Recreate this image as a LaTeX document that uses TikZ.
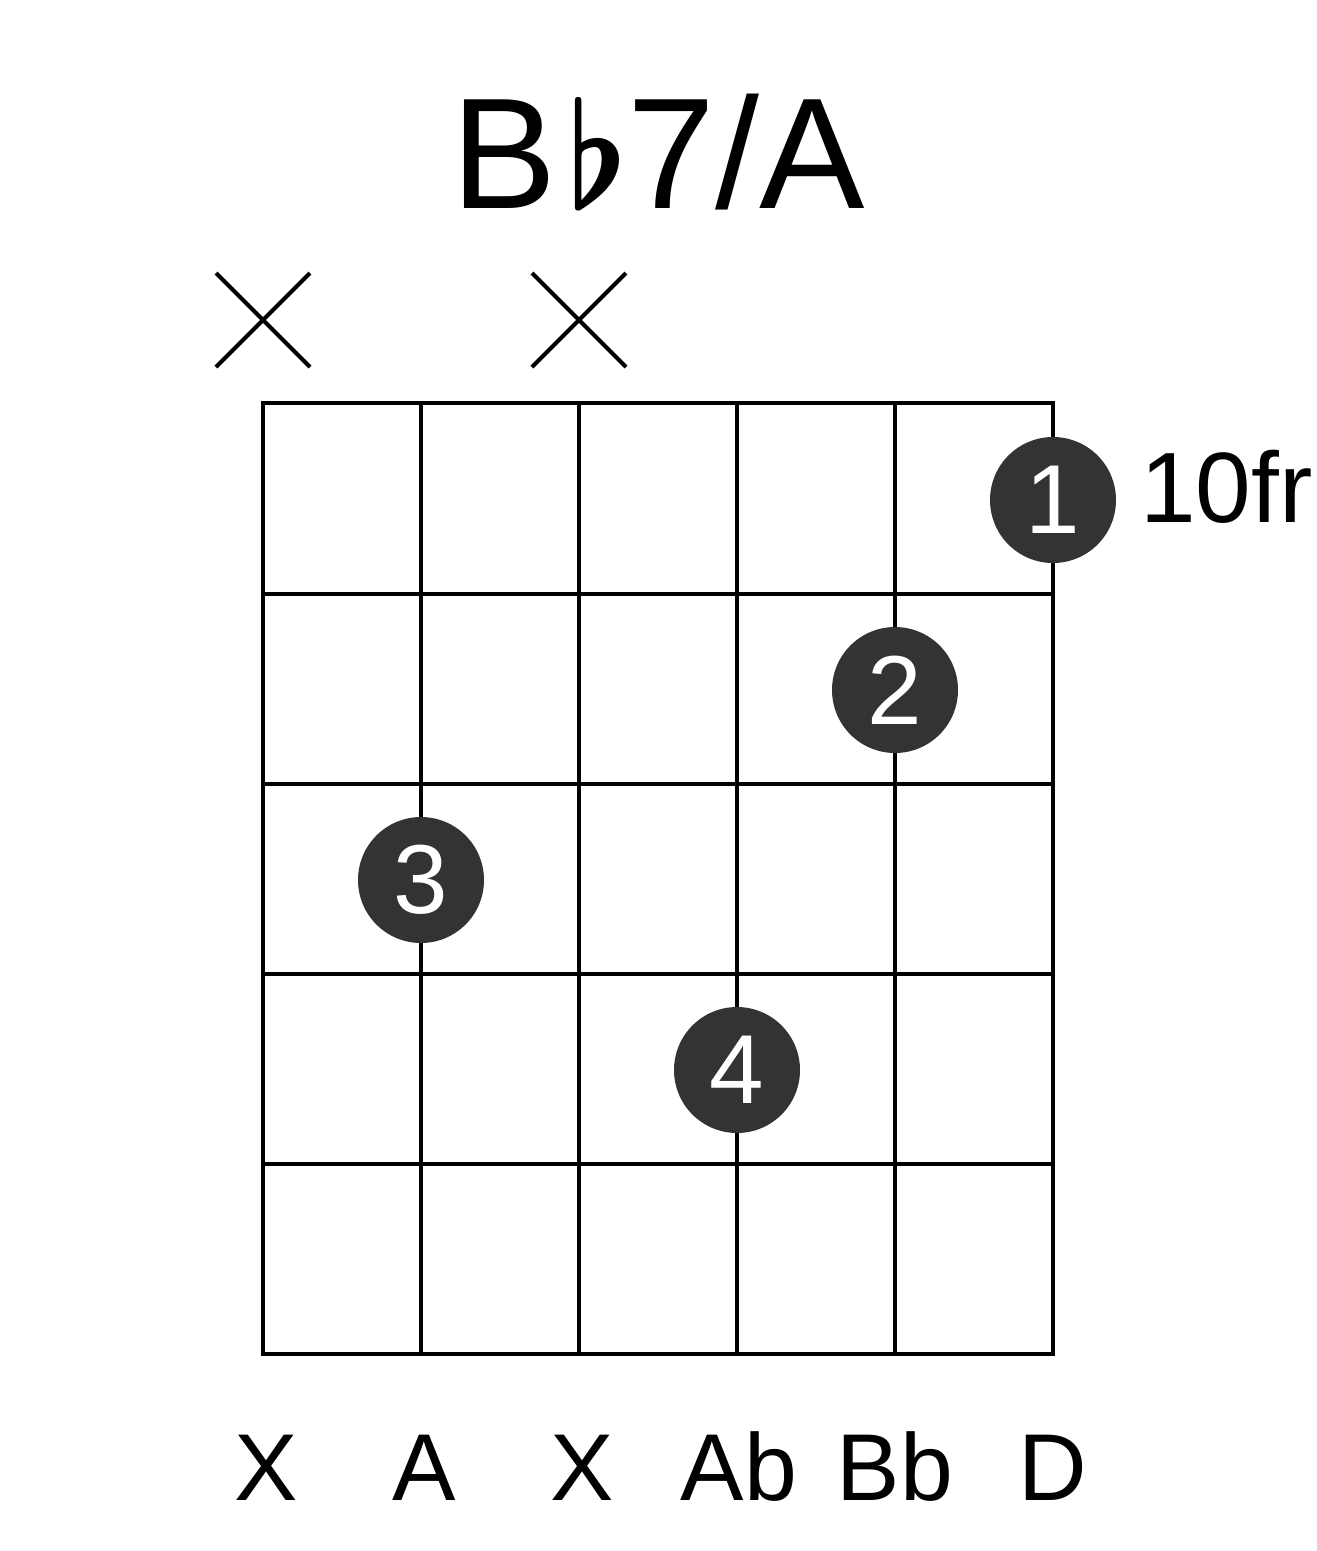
\documentclass[tikz,border=0pt]{standalone}
\usepackage{fontspec}
\usepackage{graphicx}
\setmainfont{Liberation Sans}
\usetikzlibrary{positioning,calc}
\definecolor{dotgray}{HTML}{333333}
\newcommand{\flatsign}{\hspace{10pt}\resizebox{62pt}{111pt}{\fontsize{10}{12}\selectfont\boldmath$\flat$}\hspace{-1pt}}
\tikzset{
    fret/.style={line width=4pt, black},
    mute/.style={line width=4pt, black},
    finger/.style={circle, fill=dotgray, minimum size=126pt, inner sep=0pt, text=white, font=\fontsize{98}{100}\selectfont},
    notelabel/.style={anchor=base, font=\fontsize{95}{100}\selectfont, inner sep=0pt}
}
\begin{document}
\begin{tikzpicture}[x=1pt, y=-1pt]
    \useasboundingbox (0,0) rectangle (1317,1551);
    % title
    \node[anchor=base west, inner sep=0pt, font=\fontsize{158}{160}\selectfont] (title) at (451,208) {B\flatsign 7/A};
    % muted strings
    \foreach \sx/\nm in {263/m1, 579/m3} {
        \coordinate (\nm) at (\sx,320);
        \draw[mute] ($(\nm)+(-47,-47)$) -- ($(\nm)+(47,47)$);
        \draw[mute] ($(\nm)+(-47,47)$) -- ($(\nm)+(47,-47)$);
    }
    % grid
    \foreach \sx in {263,421,579,737,895,1053}
        \draw[fret] (\sx,403) -- (\sx,1354);
    \foreach \fy in {403,594,784,974,1164,1354}
        \draw[fret] (261,\fy) -- (1055,\fy);
    % fingers
    \node[finger] (f1) at (1053,500) {1};
    \node[finger] (f2) at (895,690) {2};
    \node[finger] (f3) at (421,880) {3};
    \node[finger] (f4) at (737,1070) {4};
    \node[anchor=base west, inner sep=0pt, font=\fontsize{100}{100}\selectfont] (pos) at (1140,522) {10fr};
    % notes
    \node[notelabel] (n1) at (266,1500) {X};
    \node[notelabel] (n2) at (424,1500) {A};
    \node[notelabel] (n3) at (582,1500) {X};
    \node[notelabel] (n4) at (739,1500) {Ab};
    \node[notelabel] (n5) at (895,1500) {Bb};
    \node[notelabel] (n6) at (1053,1500) {D};
\end{tikzpicture}
\end{document}
